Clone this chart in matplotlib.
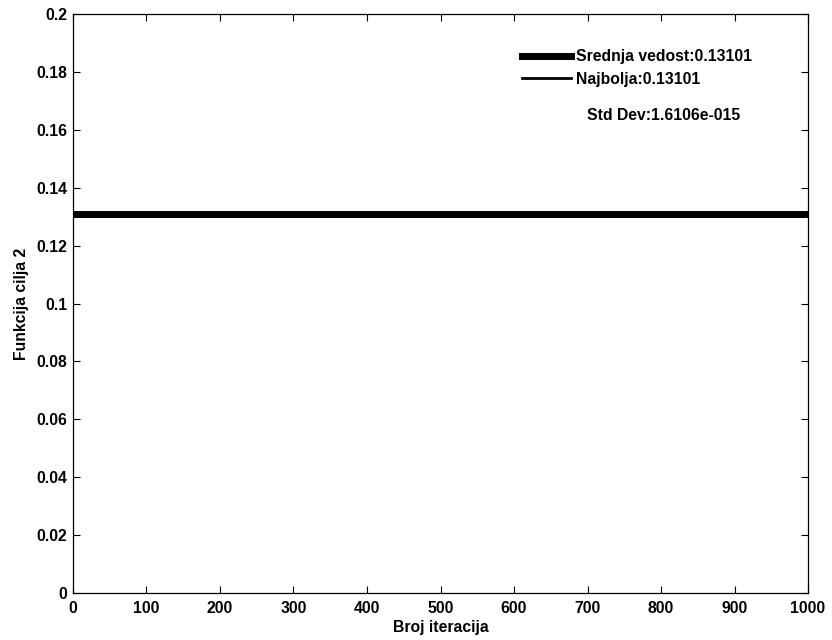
import numpy as np
import matplotlib.pyplot as plt

plt.rcParams['font.family'] = ['Liberation Sans', 'DejaVu Sans']
plt.rcParams['font.weight'] = 'bold'

# Data
iterations = np.arange(0, 1001)
mean_value = 0.13101
best_value = 0.13101
std_dev_text = '1.6106e-015'
mean_fit = np.full(len(iterations), mean_value)
best_fit = np.full(len(iterations), best_value)
x_ticks = [0, 100, 200, 300, 400, 500, 600, 700, 800, 900, 1000]
y_ticks = [0, 0.02, 0.04, 0.06, 0.08, 0.1, 0.12, 0.14, 0.16, 0.18, 0.2]
y_labels = ['0', '0.02', '0.04', '0.06', '0.08', '0.1', '0.12', '0.14', '0.16', '0.18', '0.2']

fs = 11.3

fig = plt.figure(figsize=(8.32, 6.4), dpi=100)
ax = fig.add_axes([0.0877, 0.0734, 0.8835, 0.9046])

ax.plot(iterations, mean_fit, color='black', linewidth=5,
        label='Srednja vedost:%g' % mean_value)
ax.plot(iterations, best_fit, color='black', linewidth=2,
        label='Najbolja:%g' % best_value)

ax.set_xlim(0, 1000)
ax.set_ylim(0, 0.2)
ax.set_xticks(x_ticks)
ax.set_yticks(y_ticks)
ax.set_yticklabels(y_labels)
ax.tick_params(direction='in', top=True, right=True, length=5, width=0.8,
               labelsize=fs)
ax.tick_params(axis='x', pad=6)
ax.tick_params(axis='y', pad=4)
for s in ax.spines.values():
    s.set_linewidth(0.9)

ax.set_xlabel('Broj iteracija', fontsize=fs, fontweight='bold', labelpad=2.5)
ax.set_ylabel('Funkcija cilja 2', fontsize=fs, fontweight='bold', labelpad=5)

leg = ax.legend(loc='upper left', bbox_to_anchor=(0.611, 0.939), frameon=False,
                fontsize=fs, handlelength=3.1, handletextpad=0.35,
                labelspacing=0.47, borderaxespad=0, borderpad=0)
ax.text(0.699, 0.8256, 'Std Dev:' + std_dev_text, transform=ax.transAxes,
        fontsize=fs, fontweight='bold', va='center', ha='left')

fig.savefig('out.png', dpi=100)
